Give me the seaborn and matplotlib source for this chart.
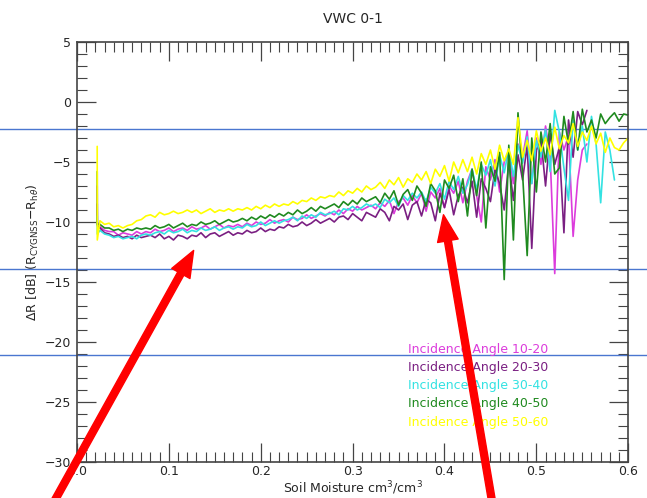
import numpy as np
import pandas as pd
import matplotlib
matplotlib.use("Agg")
import matplotlib.pyplot as plt
from matplotlib.lines import Line2D
from matplotlib.patches import FancyArrowPatch
import seaborn as sns

# ---------------- data ----------------
title = "VWC 0-1"
labels = ["Incidence Angle 10-20", "Incidence Angle 20-30", "Incidence Angle 30-40",
          "Incidence Angle 40-50", "Incidence Angle 50-60"]
colors = ["#dc3cdc", "#7a1f82", "#33e2e2", "#1f8a1f", "#ffff00"]

# start spike (x = 0.022): top value then bottom value, per series
spike_x = [0.022, 0.0221]
spike_10_20 = [-7.0, -10.0]
spike_20_30 = [-8.5, -10.3]
spike_30_40 = [-9.5, -11.0]
spike_40_50 = [-5.8, -10.2]
spike_50_60 = [-3.7, -11.5]

# regular samples from x = 0.025 in steps of 0.005
x_start, x_step = 0.025, 0.005

vals_10_20 = [
    -10.4, -10.7, -10.8, -10.8, -11.1, -10.9, -11.0, -11.1, -10.8, -11.0,
    -10.8, -10.9, -10.6, -10.8, -10.7, -10.5, -10.8, -10.6, -10.5, -10.7,
    -10.4, -10.6, -10.5, -10.3, -10.6, -10.4, -10.2, -10.5, -10.3, -10.4,
    -10.2, -10.4, -10.1, -10.3, -10.0, -10.2, -10.1, -9.8, -10.1, -9.9,
    -9.8, -10.0, -9.6, -9.8, -9.7, -9.4, -9.7, -9.5, -9.3, -9.5,
    -9.2, -9.4, -9.0, -9.3, -8.9, -9.1, -8.7, -9.0, -8.8, -8.6,
    -8.9, -8.4, -8.7, -8.2, -9.3, -8.3, -8.0, -8.6, -7.8, -8.4,
    -7.6, -9.1, -7.5, -8.0, -7.2, -8.8, -7.0, -7.6, -6.6, -8.4,
    -6.6, -5.6, -7.8, -10.0, -5.4, -6.5, -4.8, -7.5, -5.0, -4.2,
    -6.8, -3.5, -4.6, -2.4, -6.8, -3.0, -5.2, -2.0, -4.5, -14.3,
    -2.5, -4.0, -2.8, -11.2, -6.5, -4.0, -3.5,
]
vals_20_30 = [
    -10.5, -10.9, -11.0, -11.2, -11.1, -11.3, -11.2, -11.4, -11.1, -11.3,
    -11.2, -11.1, -11.3, -11.0, -11.4, -11.2, -11.5, -11.1, -11.2, -11.4,
    -11.1, -11.2, -10.9, -11.3, -11.0, -10.9, -11.2, -11.0, -10.8, -11.1,
    -10.9, -11.0, -10.7, -10.9, -10.8, -10.5, -10.8, -10.6, -10.7, -10.4,
    -10.5, -10.2, -10.4, -10.3, -10.0, -10.3, -10.1, -9.8, -10.1, -9.9,
    -9.7, -10.0, -9.6, -9.5, -9.8, -9.3, -9.6, -9.9, -9.2, -9.4,
    -9.6, -8.9, -9.2, -9.9, -8.7, -9.0, -8.5, -9.8, -8.6, -8.3,
    -9.5, -8.1, -8.4, -9.9, -7.6, -8.8, -7.3, -9.4, -7.8, -7.1,
    -8.4, -6.6, -9.6, -6.4, -7.2, -8.3, -5.6, -6.8, -9.0, -5.0,
    -8.2, -4.4, -6.5, -3.6, -12.2, -4.0, -3.1, -7.0, -2.6, -5.2,
    -3.8, -10.9, -1.5, -4.6, -0.8, -1.9, -0.7,
]
vals_30_40 = [
    -10.7, -11.0, -11.1, -11.3, -11.2, -11.4, -11.3, -11.2, -11.4, -11.1,
    -11.0, -11.1, -10.9, -10.8, -11.0, -10.7, -10.9, -10.8, -10.6, -10.9,
    -10.7, -10.8, -10.5, -10.7, -10.6, -10.4, -10.7, -10.5, -10.4, -10.6,
    -10.4, -10.5, -10.2, -10.4, -10.3, -10.0, -10.3, -10.1, -9.9, -10.1,
    -9.9, -9.8, -9.6, -9.9, -9.5, -9.7, -9.4, -9.6, -9.2, -9.4,
    -9.3, -9.1, -9.4, -8.9, -9.0, -8.7, -9.0, -8.8, -8.5, -8.7,
    -8.5, -8.8, -8.1, -8.4, -8.0, -8.7, -7.8, -8.2, -7.6, -8.0,
    -7.5, -8.3, -7.1, -7.6, -6.8, -8.1, -6.6, -7.3, -6.2, -7.6,
    -6.9, -5.6, -7.3, -5.2, -6.1, -4.8, -7.0, -4.4, -5.9, -3.9,
    -6.2, -3.6, -5.1, -2.9, -6.8, -3.2, -4.6, -2.3, -5.8, -0.7,
    -2.5, -5.5, -8.2, -1.5, -4.0, -2.0, -5.0, -1.2, -3.5, -8.4,
    -2.5, -4.0, -6.5,
]
vals_40_50 = [
    -10.2, -10.5, -10.5, -10.7, -10.6, -10.8, -10.6, -10.7, -10.5, -10.6,
    -10.5, -10.6, -10.3, -10.5, -10.4, -10.2, -10.5, -10.3, -10.1, -10.4,
    -10.2, -10.3, -10.0, -10.2, -10.1, -9.9, -10.2, -10.0, -9.8, -10.0,
    -9.9, -9.7, -9.9, -9.6, -9.8, -9.5, -9.7, -9.4, -9.6, -9.3,
    -9.5, -9.2, -9.4, -9.0, -9.3, -9.1, -8.8, -9.1, -8.7, -8.9,
    -8.7, -8.5, -8.8, -8.3, -8.6, -8.2, -8.5, -8.0, -8.3, -8.1,
    -7.9, -8.4, -7.6, -8.1, -7.4, -8.6, -7.7, -7.3, -8.2, -7.0,
    -7.6, -8.7, -6.8, -7.4, -9.2, -6.5, -7.2, -6.1, -8.3, -6.4,
    -9.5, -5.6, -7.8, -5.0, -10.5, -5.4, -6.6, -4.2, -14.8, -3.6,
    -11.5, -0.9, -6.0, -12.8, -3.0, -7.5, -2.5, -5.0, -1.8, -6.0,
    -5.5, -1.2, -3.5, -0.8, -4.0, -0.6, -2.5, -1.5, -3.0, -1.0,
    -1.8, -1.3, -0.9, -1.6, -1.0, -1.1,
]
vals_50_60 = [
    -9.9, -10.2, -10.1, -10.4, -10.3, -10.5, -10.3, -10.2, -9.9, -9.8,
    -9.5, -9.4, -9.6, -9.2, -9.4, -9.3, -9.1, -9.3, -9.2, -9.0,
    -9.2, -9.0, -9.3, -9.1, -8.9, -9.2, -9.0, -9.1, -8.9, -9.1,
    -8.9, -9.0, -8.8, -9.0, -8.7, -8.9, -8.6, -8.8, -8.5, -8.7,
    -8.5, -8.6, -8.3, -8.5, -8.2, -8.3, -8.0, -8.2, -7.9, -8.0,
    -7.8, -7.9, -7.5, -7.8, -7.4, -7.6, -7.2, -7.5, -7.0, -7.3,
    -7.1, -6.7, -7.2, -6.5, -6.9, -6.3, -7.1, -6.4, -6.7, -6.0,
    -6.5, -5.8, -6.8, -5.6, -6.2, -5.3, -6.6, -5.0, -5.9, -4.8,
    -5.8, -4.6, -6.0, -4.3, -5.2, -4.0, -5.6, -3.6, -4.9, -3.9,
    -5.2, -1.3, -4.6, -3.2, -4.9, -2.4, -4.1, -3.0, -4.4, -2.1,
    -3.9, -2.8, -3.4, -1.8, -3.7, -2.5, -3.2, -2.0, -3.5, -2.6,
    -4.2, -3.0, -3.8, -4.0, -3.4, -3.0,
]

# reference horizontal guide lines (dB) drawn across the whole page
guide_levels = [-2.25, -13.95, -21.1]

# ---------------- build long table ----------------
spikes = [spike_10_20, spike_20_30, spike_30_40, spike_40_50, spike_50_60]
series = [vals_10_20, vals_20_30, vals_30_40, vals_40_50, vals_50_60]
rows = []
for lab, sp, vals in zip(labels, spikes, series):
    xs = list(spike_x) + [round(x_start + x_step * k, 4) for k in range(len(vals))]
    ys = list(sp) + list(vals)
    for i, (xv, yv) in enumerate(zip(xs, ys)):
        rows.append({"x": xv, "y": yv, "series": lab, "order": i})
df = pd.DataFrame(rows)

# ---------------- plot ----------------
sns.set_style("ticks")
plt.rcParams["font.family"] = ["DejaVu Sans"]

fig = plt.figure(figsize=(6.47, 4.98), dpi=100)
ax = fig.add_axes([0.119, 0.0723, 0.852, 0.8434])

for lab, col in zip(labels, colors):
    sub = df[df["series"] == lab]
    sns.lineplot(data=sub, x="x", y="y", color=col, estimator=None, sort=False,
                 linewidth=1.2, ax=ax, legend=False)

ax.set_xlim(0.0, 0.6)
ax.set_ylim(-30, 5)
ax.set_xticks(np.arange(0, 0.61, 0.1))
ax.set_xticklabels([f"{v:.1f}" for v in np.arange(0, 0.61, 0.1)])
ax.set_yticks(np.arange(-30, 6, 5))
ax.set_xticks(np.arange(0, 0.601, 0.01), minor=True)
ax.set_yticks(np.arange(-30, 6, 1), minor=True)

edge = "#444444"
for s in ax.spines.values():
    s.set_visible(True)
    s.set_color(edge)
    s.set_linewidth(1.2)
ax.tick_params(which="both", direction="in", top=True, right=True, color=edge,
               labelsize=9)
ax.tick_params(axis="x", which="both", pad=2)
ax.tick_params(axis="y", which="both", pad=4)
ax.tick_params(which="major", length=14, width=0.9)
ax.tick_params(which="minor", length=7, width=0.8)

ax.set_title(title, fontsize=10, pad=14)
ax.set_xlabel("Soil Moisture cm$^3$/cm$^3$", fontsize=9, labelpad=1)
ax.set_ylabel(r"$\Delta$R [dB] (R$_{\mathrm{CYGNSS}}$$-$R$_{\mathrm{h}\theta}$)",
              fontsize=9, labelpad=3)

for lv in guide_levels:
    ax.axhline(lv, xmin=-0.15, xmax=1.05, color="#4a76d0", linewidth=1.0,
               clip_on=False, zorder=1)

handles = [Line2D([], [], color=c) for c in colors]
leg = ax.legend(handles, labels, loc="upper left", bbox_to_anchor=(0.5896, 0.299),
                frameon=False, handlelength=0, handletextpad=0, borderpad=0,
                labelspacing=0.42, fontsize=9, labelcolor="linecolor")
for h in leg.legend_handles:
    h.set_visible(False)

# red annotation arrows (figure fractions)
W, H = 647.0, 498.0
arrows = [((45, -20), (195, 250)), ((494, -15), (443, 286))]
for (tx, ty), (hx, hy) in arrows:
    p = FancyArrowPatch((tx / W, ty / H), (hx / W, hy / H),
                        transform=fig.transFigure,
                        arrowstyle="simple,head_width=1.5,head_length=1.9,tail_width=0.5",
                        mutation_scale=10, color="#ff0000", zorder=10, clip_on=False)
    fig.add_artist(p)

fig.savefig("out.png", dpi=100)
